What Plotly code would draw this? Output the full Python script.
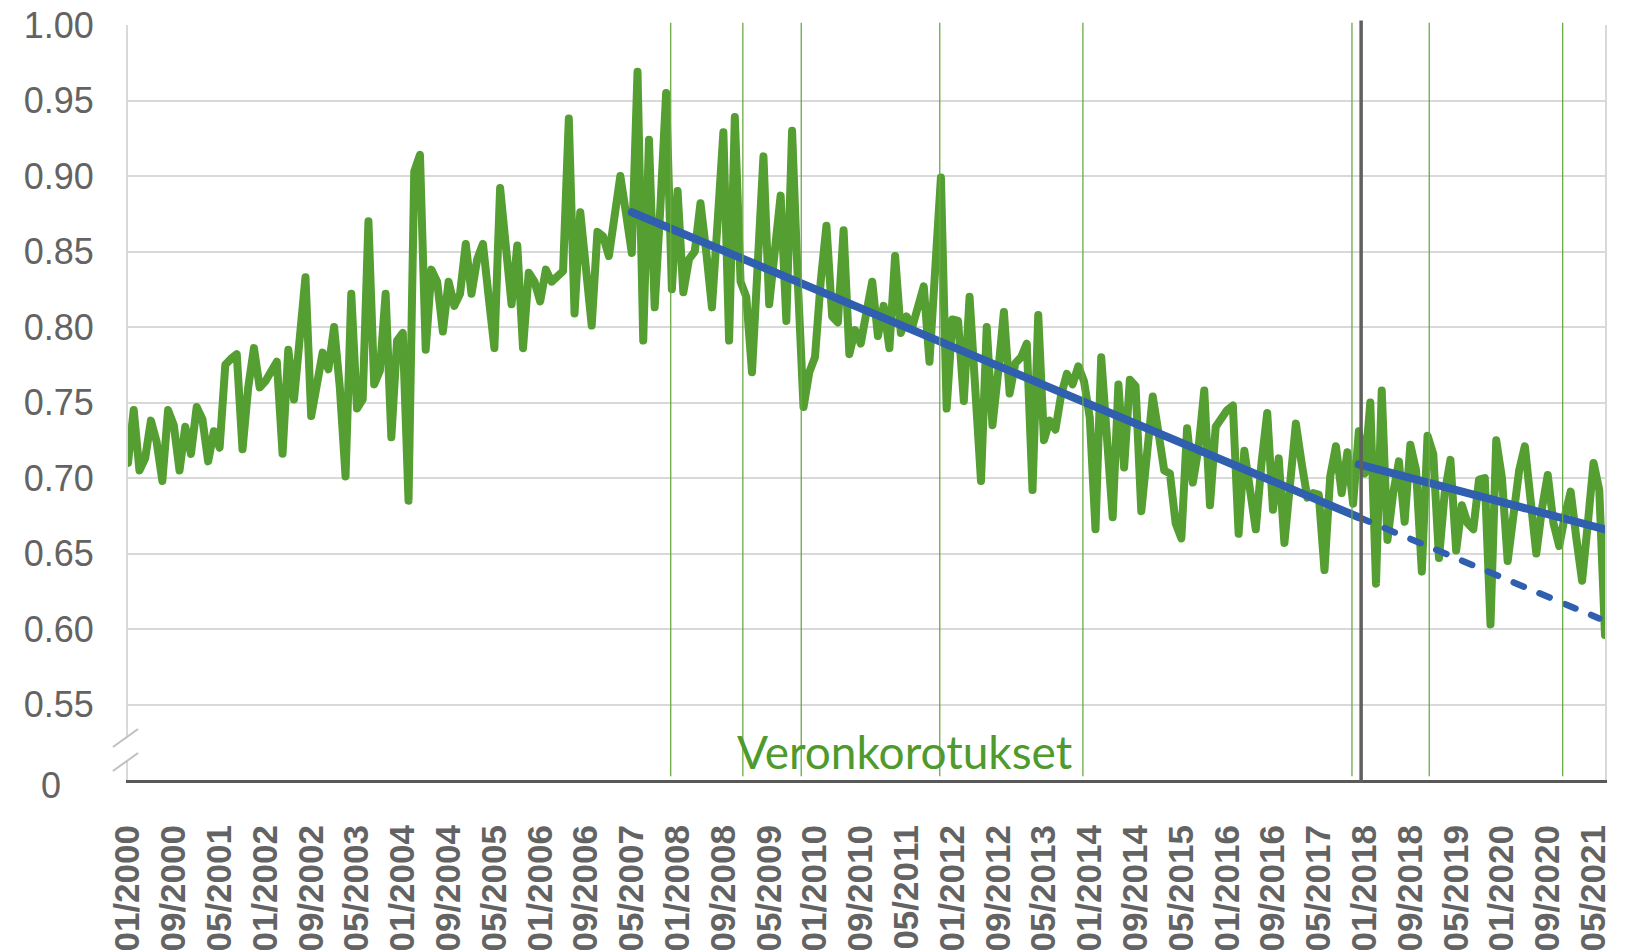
import plotly.graph_objects as go

# ---------------- data ----------------
tick_labels = ["01/2000", "09/2000", "05/2001", "01/2002", "09/2002", "05/2003", "01/2004",
               "09/2004", "05/2005", "01/2006", "09/2006", "05/2007", "01/2008", "09/2008",
               "05/2009", "01/2010", "09/2010", "05/2011", "01/2012", "09/2012", "05/2013",
               "01/2014", "09/2014", "05/2015", "01/2016", "09/2016", "05/2017", "01/2018",
               "09/2018", "05/2019", "01/2020", "09/2020", "05/2021"]
tick_step = 8  # months between labels

monthly_values = [
    0.710, 0.745, 0.705, 0.713, 0.738, 0.724, 0.698, 0.745, 0.735, 0.705,
    0.734, 0.716, 0.747, 0.739, 0.711, 0.731, 0.720, 0.775, 0.779, 0.782,
    0.719, 0.760, 0.786, 0.760, 0.764, 0.770, 0.777, 0.716, 0.785, 0.752,
    0.790, 0.833, 0.741, 0.765, 0.783, 0.772, 0.800, 0.760, 0.701, 0.822,
    0.746, 0.752, 0.870, 0.762, 0.771, 0.822, 0.727, 0.791, 0.796, 0.685,
    0.903, 0.914, 0.785, 0.838, 0.830, 0.797, 0.830, 0.814, 0.822, 0.855,
    0.822, 0.845, 0.855, 0.820, 0.786, 0.892, 0.850, 0.815, 0.854, 0.786,
    0.836, 0.830, 0.817, 0.838, 0.830, 0.834, 0.837, 0.938, 0.809, 0.876,
    0.840, 0.801, 0.863, 0.860, 0.847, 0.870, 0.900, 0.875, 0.849, 0.969,
    0.791, 0.924, 0.813, 0.880, 0.955, 0.825, 0.890, 0.823, 0.845, 0.850,
    0.882, 0.850, 0.813, 0.870, 0.929, 0.791, 0.939, 0.830, 0.820, 0.770,
    0.850, 0.913, 0.815, 0.850, 0.887, 0.804, 0.930, 0.830, 0.747, 0.770,
    0.780, 0.830, 0.867, 0.807, 0.803, 0.864, 0.782, 0.798, 0.789, 0.810,
    0.830, 0.794, 0.814, 0.786, 0.847, 0.796, 0.807, 0.800, 0.812, 0.827,
    0.777, 0.840, 0.899, 0.746, 0.805, 0.804, 0.751, 0.820, 0.760, 0.698,
    0.800, 0.735, 0.770, 0.810, 0.756, 0.776, 0.780, 0.789, 0.692, 0.808,
    0.725, 0.738, 0.732, 0.755, 0.769, 0.762, 0.774, 0.764, 0.740, 0.666,
    0.780, 0.720, 0.674, 0.762, 0.707, 0.765, 0.761, 0.678, 0.720, 0.754,
    0.730, 0.705, 0.703, 0.670, 0.660, 0.733, 0.697, 0.720, 0.758, 0.682,
    0.734, 0.740, 0.745, 0.748, 0.663, 0.718, 0.690, 0.666, 0.710, 0.743,
    0.679, 0.713, 0.657, 0.700, 0.736, 0.710, 0.687, 0.690, 0.689, 0.639,
    0.701, 0.721, 0.690, 0.717, 0.683, 0.731, 0.703, 0.750, 0.630, 0.758,
    0.659, 0.690, 0.711, 0.671, 0.722, 0.705, 0.638, 0.728, 0.716, 0.647,
    0.690, 0.712, 0.652, 0.682, 0.670, 0.666, 0.699, 0.700, 0.603, 0.725,
    0.700, 0.645, 0.680, 0.705, 0.721, 0.690, 0.650, 0.680, 0.702, 0.670,
    0.655, 0.675, 0.691, 0.660, 0.632, 0.670, 0.710, 0.692, 0.596,
]

# trend before the change (solid part, then dashed projection)
trend_solid_x = [88, 215]
trend_solid_y = [0.876, 0.674]
trend_proj_x = [215, 257]
trend_proj_y = [0.674, 0.607]
# trend after the change
trend_after_x = [215, 258]
trend_after_y = [0.709, 0.666]

# tax increases (month index positions) and structural break
tax_hike_months = [94.8, 107.4, 117.6, 141.8, 166.8, 213.8, 227.3, 250.6]
break_month = 215.4
annotation_text = "Veronkorotukset"

y_tick_vals = [0.55, 0.60, 0.65, 0.70, 0.75, 0.80, 0.85, 0.90, 0.95, 1.00]
y_tick_text = ["0.55", "0.60", "0.65", "0.70", "0.75", "0.80", "0.85", "0.90", "0.95", "1.00"]
y_break_label = "0"

# ---------------- styles ----------------
GREEN = "#549E32"
VLINE_GREEN = "#6AAA45"
BLUE = "#2F5FAE"
GREY_TXT = "#636363"
GRID = "#D9D9D9"

x_idx = list(range(len(monthly_values)))
last = len(monthly_values) - 1

fig = go.Figure()
fig.add_trace(go.Scatter(x=x_idx, y=monthly_values, mode="lines",
                         line=dict(color=GREEN, width=8), hoverinfo="skip"))
fig.add_trace(go.Scatter(x=trend_solid_x, y=trend_solid_y, mode="lines",
                         line=dict(color=BLUE, width=8), hoverinfo="skip"))
fig.add_trace(go.Scatter(x=trend_proj_x, y=trend_proj_y, mode="lines",
                         line=dict(color=BLUE, width=6.5, dash="11px,17px"), hoverinfo="skip"))
fig.add_trace(go.Scatter(x=trend_after_x, y=trend_after_y, mode="lines",
                         line=dict(color=BLUE, width=8), hoverinfo="skip"))

shapes = []
for m in tax_hike_months:
    shapes.append(dict(type="line", xref="x", yref="paper", x0=m, x1=m, y0=0.005, y1=1.003,
                       line=dict(color=VLINE_GREEN, width=1.3), layer="above"))
shapes.append(dict(type="line", xref="x", yref="paper", x0=break_month, x1=break_month,
                   y0=-0.003, y1=1.006, line=dict(color="#5F5F5F", width=3.5), layer="above"))
# axis break marks
shapes.append(dict(type="path", xref="paper", yref="paper",
                   path="M -0.0102 0.0437 L 0.0068 0.0675 L 0.0068 0.0358 L -0.0102 0.0119 Z",
                   fillcolor="white", line=dict(width=0), layer="above"))
shapes.append(dict(type="line", xref="paper", yref="paper", x0=-0.0102, y0=0.0437, x1=0.0068, y1=0.0675,
                   line=dict(color="#BFBFBF", width=2), layer="above"))
shapes.append(dict(type="line", xref="paper", yref="paper", x0=-0.0102, y0=0.0119, x1=0.0068, y1=0.0358,
                   line=dict(color="#BFBFBF", width=2), layer="above"))

fig.update_layout(
    width=1645, height=952,
    margin=dict(l=128, r=40, t=25, b=172),
    paper_bgcolor="white", plot_bgcolor="white",
    showlegend=False, hovermode=False,
    shapes=shapes,
    annotations=[
        dict(x=135.7, y=0.519, xref="x", yref="y", text=annotation_text,
             showarrow=False, font=dict(family="Lato", size=46, color="#4E9A2C")),
        dict(x=-0.0518, y=-0.007, xref="paper", yref="paper", text=y_break_label,
             showarrow=False, xanchor="center", yanchor="middle",
             font=dict(family="Liberation Sans", size=36, color=GREY_TXT)),
    ],
    xaxis=dict(range=[0, last], tickmode="array", automargin=False,
               tickvals=list(range(0, tick_step * len(tick_labels), tick_step)),
               ticktext=tick_labels, tickangle=-90, showgrid=False, zeroline=False,
               showline=True, linecolor="#595959", linewidth=3,
               ticks="", ticklabelstandoff=28, ticklabeloverflow="allow",
               tickfont=dict(family="Liberation Sans", size=35, color=GREY_TXT, weight="bold")),
    yaxis=dict(range=[0.5, 1.0], tickmode="array", tickvals=y_tick_vals, ticktext=y_tick_text,
               automargin=False,
               showgrid=True, gridcolor=GRID, gridwidth=2, zeroline=False,
               showline=True, linecolor=GRID, linewidth=2, mirror=True,
               ticks="", ticklabelstandoff=25, ticklabeloverflow="allow",
               tickfont=dict(family="Liberation Sans", size=36, color=GREY_TXT)),
)

page_style = """
document.body.style.margin = '0';
var gd = document.getElementById('{plot_id}');
function roundLines() {
  gd.querySelectorAll('.scatterlayer .js-line').forEach(function (p) {
    p.style.strokeLinejoin = 'round';
    p.style.strokeLinecap = 'round';
  });
}
roundLines();
gd.on('plotly_afterplot', roundLines);
"""

fig.write_html("out.html", post_script=page_style,
               config={"displayModeBar": False, "staticPlot": True})
